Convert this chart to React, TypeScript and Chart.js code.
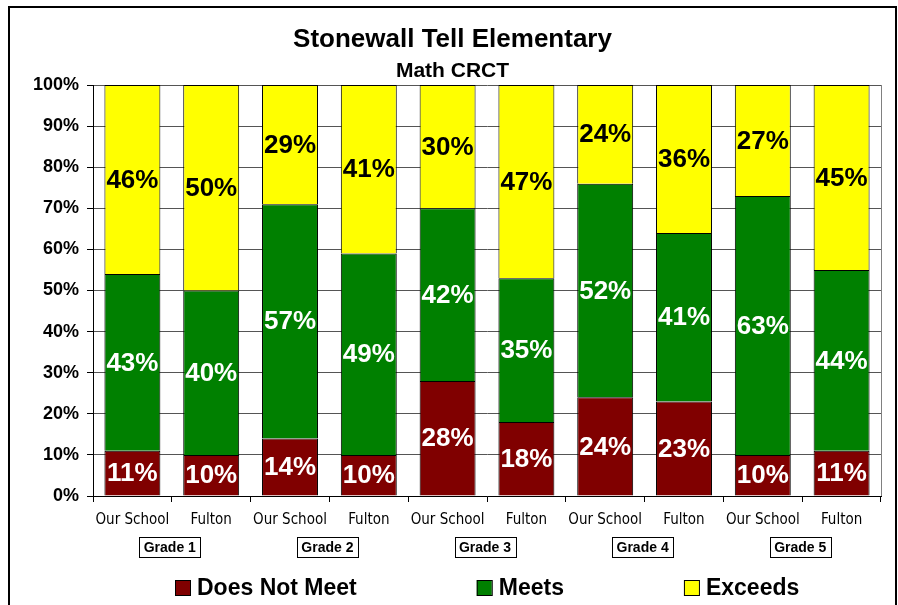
import React, { useEffect, useRef } from "react";
import { Chart, registerables } from "chart.js";

Chart.register(...registerables);

const titleText = "Stonewall Tell Elementary";
const subtitleText = "Math CRCT";
const categories = [
  "Our School", "Fulton",
  "Our School", "Fulton",
  "Our School", "Fulton",
  "Our School", "Fulton",
  "Our School", "Fulton",
];
const grades = ["Grade 1", "Grade 2", "Grade 3", "Grade 4", "Grade 5"];
const seriesNames = ["Does Not Meet", "Meets", "Exceeds"];
const doesNotMeet = [11, 10, 14, 10, 28, 18, 24, 23, 10, 11];
const meets = [43, 40, 57, 49, 42, 35, 52, 41, 63, 44];
const exceeds = [46, 50, 29, 41, 30, 47, 24, 36, 27, 45];
const seriesColors = ["#800000", "#008000", "#FFFF00"];
const labelColors = ["#FFFFFF", "#FFFFFF", "#000000"];
const yMin = 0;
const yMax = 100;
const yStep = 10;

const FONT = "'Liberation Sans', Arial, Helvetica, sans-serif";
const NARROW = "'Liberation Sans Narrow', 'Arial Narrow', 'DejaVu Sans Condensed', sans-serif";

const decorPlugin = {
  id: "decor",
  beforeDraw(chart: any) {
    const ctx = chart.ctx;
    ctx.save();
    ctx.fillStyle = "#FFFFFF";
    ctx.fillRect(0, 0, chart.width, chart.height);
    ctx.strokeStyle = "#000000";
    ctx.lineWidth = 2;
    ctx.strokeRect(9, 7, 887, 640);
    ctx.restore();
  },
  afterDraw(chart: any) {
    const ctx = chart.ctx;
    const area = chart.chartArea;
    ctx.save();
    // plot right border
    ctx.strokeStyle = "#808080";
    ctx.lineWidth = 1;
    ctx.beginPath();
    ctx.moveTo(Math.round(area.right) + 0.5, area.top);
    ctx.lineTo(Math.round(area.right) + 0.5, area.bottom);
    ctx.stroke();

    // titles
    ctx.fillStyle = "#000000";
    ctx.textAlign = "center";
    ctx.textBaseline = "alphabetic";
    const cx = (9 + 896) / 2;
    ctx.font = `bold 26px ${FONT}`;
    ctx.fillText(titleText, cx, 47);
    ctx.font = `bold 21px ${FONT}`;
    ctx.fillText(subtitleText, cx, 77);

    // grade boxes
    const xs = chart.scales.x;
    ctx.font = `bold 14px ${FONT}`;
    ctx.textBaseline = "middle";
    grades.forEach((g, i) => {
      const c = (xs.getPixelForValue(2 * i) + xs.getPixelForValue(2 * i + 1)) / 2 - 2;
      const w = 61;
      const h = 20;
      const top = 537;
      ctx.fillStyle = "#FFFFFF";
      ctx.fillRect(Math.round(c - w / 2), top, w, h);
      ctx.strokeStyle = "#000000";
      ctx.lineWidth = 1;
      ctx.strokeRect(Math.round(c - w / 2) + 0.5, top + 0.5, w, h);
      ctx.fillStyle = "#000000";
      ctx.fillText(g, c, top + h / 2 + 1);
    });

    // legend
    ctx.font = `bold 23px ${FONT}`;
    ctx.textAlign = "left";
    ctx.textBaseline = "middle";
    let x = 175;
    const ly = 588;
    chart.data.datasets.forEach((ds: any) => {
      ctx.fillStyle = ds.backgroundColor;
      ctx.fillRect(x, ly - 8, 15, 16);
      ctx.strokeStyle = "#000000";
      ctx.lineWidth = 1;
      ctx.strokeRect(x + 0.5, ly - 7.5, 15, 15);
      ctx.fillStyle = "#000000";
      ctx.fillText(ds.label, x + 22, ly + 1);
      const tw = ctx.measureText(ds.label).width;
      x = x + 22 + tw + 120;
    });
    ctx.restore();
  },
  afterDatasetsDraw(chart: any) {
    const ctx = chart.ctx;
    ctx.save();
    ctx.font = `bold 26px ${FONT}`;
    ctx.textAlign = "center";
    ctx.textBaseline = "middle";
    chart.data.datasets.forEach((ds: any, di: number) => {
      const meta = chart.getDatasetMeta(di);
      meta.data.forEach((bar: any, i: number) => {
        const v = ds.data[i];
        const cy = (bar.y + bar.base) / 2;
        ctx.fillStyle = labelColors[di];
        ctx.fillText(`${v}%`, bar.x, cy + 1);
      });
    });
    ctx.restore();
  },
};

export default function App() {
  const ref = useRef<HTMLCanvasElement | null>(null);
  useEffect(() => {
    if (!ref.current) return;
    const series = [doesNotMeet, meets, exceeds];
    const chart = new Chart(ref.current, {
      type: "bar",
      data: {
        labels: categories,
        datasets: series.map((d, i) => ({
          label: seriesNames[i],
          data: d,
          backgroundColor: seriesColors[i],
          borderColor: "#000000",
          borderWidth: 1,
          barPercentage: 0.71,
          categoryPercentage: 1,
        })),
      },
      options: {
        responsive: false,
        animation: false,
        events: [],
        layout: { padding: { left: 0, right: 17, top: 85, bottom: 0 } },
        plugins: {
          legend: { display: false },
          title: { display: false },
          tooltip: { enabled: false },
        },
        scales: {
          x: {
            stacked: true,
            afterFit: (s: any) => { s.height = 109; },
            grid: {
              display: true,
              offset: true,
              drawOnChartArea: false,
              drawTicks: true,
              tickLength: 6,
              color: "#000000",
              tickColor: "#000000",
            },
            border: { display: true, color: "#000000", width: 1 },
            ticks: {
              color: "#000000",
              padding: 9,
              maxRotation: 0,
              autoSkip: false,
              font: { family: NARROW, size: 15 },
            },
          },
          y: {
            stacked: true,
            min: yMin,
            max: yMax,
            afterFit: (s: any) => { s.width = 93; },
            grid: {
              color: "#555555",
              tickColor: "#000000",
              tickLength: 6,
              drawTicks: true,
            },
            border: { display: true, color: "#000000", width: 1 },
            ticks: {
              stepSize: yStep,
              color: "#000000",
              padding: 8,
              font: { family: FONT, size: 18, weight: "bold" },
              callback: (v: any) => `${v}%`,
            },
          },
        },
      },
      plugins: [decorPlugin],
    });
    return () => chart.destroy();
  }, []);
  return (
    <div style={{ position: "absolute", left: 0, top: 0, width: 898, height: 605 }}>
      <canvas ref={ref} width={898} height={605} style={{ display: "block" }} />
    </div>
  );
}
